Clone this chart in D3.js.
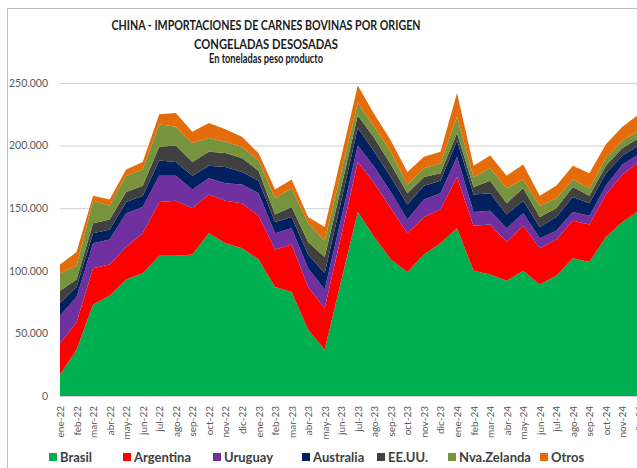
<!DOCTYPE html>
<html>
<head>
<meta charset="utf-8">
<script src="https://cdn.jsdelivr.net/npm/d3@7"></script>
<style>
  body { margin: 0; background: #fff; overflow: hidden; }
  svg { display: block; font-family: Lato, "Open Sans", sans-serif; }
</style>
</head>
<body>
<div id="chart"></div>
<script>
// months ene-22 .. dic-24 (last one falls just past the right edge)
let months = ["ene-22","feb-22","mar-22","abr-22","may-22","jun-22","jul-22","ago-22","sep-22","oct-22","nov-22","dic-22",
              "ene-23","feb-23","mar-23","abr-23","may-23","jun-23","jul-23","ago-23","sep-23","oct-23","nov-23","dic-23",
              "ene-24","feb-24","mar-24","abr-24","may-24","jun-24","jul-24","ago-24","sep-24","oct-24","nov-24","dic-24"];

let series = ["Brasil","Argentina","Uruguay","Australia","EE.UU.","Nva.Zelanda","Otros"];
let colors = ["#00b050","#ff0000","#7030a0","#002060","#404040","#77933c","#e46c0a"];

// toneladas peso producto
let brasil     = [17000,37000,73000,80000,93000,98000,112000,112000,113000,130000,122000,118000,109000,87000,83000,53000,37000,92000,147000,127000,109000,99000,113000,122000,134000,100000,97000,92000,100000,89000,96000,110000,107000,127000,139000,148000];
let argentina  = [25000,22000,29000,25000,26000,32000,43000,44000,37000,31000,34000,36000,35000,30000,38000,34000,33000,36000,40000,43000,41000,31000,30000,27000,41000,36000,40000,31000,36000,29000,29000,30000,30000,34000,38000,39000];
let uruguay    = [22000,20000,20000,20000,27000,21000,21000,20000,15000,13000,14000,15000,18000,13000,13000,15000,15000,14000,13000,13000,13000,11000,14000,13000,16000,11000,11000,11000,10000,8000,7000,7000,7000,7000,8000,6000];
let australia  = [10000,8000,8000,8000,9000,9000,12000,11000,11000,10000,13000,10000,10000,9000,9000,11000,13000,14000,14000,12000,12000,12000,11000,10000,13000,14000,14000,11000,10000,9000,11000,12000,10000,10000,7000,7000];
let eeuu       = [10000,6000,8000,8000,8000,8000,11000,13000,11000,11000,11000,11000,8000,6000,8000,10000,13000,11000,10000,11000,10000,9000,7000,6000,6000,6000,10000,9000,10000,8000,7000,8000,6000,6000,6000,6000];
let nvazelanda = [14000,11000,18000,11000,13000,13000,18000,15000,15000,11000,9000,9000,8000,13000,15000,15000,13000,12000,10000,9000,10000,7000,7000,8000,13000,8000,10000,12000,7000,9000,8000,6000,6000,6000,6000,6000];
let otros      = [7000,11000,4000,5000,5000,6000,8000,11000,9000,12000,10000,8000,6000,7000,7000,5000,11000,12000,14000,10000,9000,10000,9000,9000,19000,9000,10000,10000,12000,8000,10000,11000,12000,11000,11000,13000];

let yTicks = [0,50000,100000,150000,200000,250000];
let titleLines = ["CHINA - IMPORTACIONES DE CARNES BOVINAS POR ORIGEN","CONGELADAS DESOSADAS","En toneladas peso producto"];

// build table for d3.stack
let seriesValues = [brasil,argentina,uruguay,australia,eeuu,nvazelanda,otros];
let table = months.map(function(m,i){
  let row = {month:m};
  series.forEach(function(s,k){ row[s] = seriesValues[k][i]; });
  return row;
});

let width = 637, height = 468;
let svg = d3.select("#chart").append("svg")
  .attr("width",width).attr("height",height);

// outer frame (cut by the window on the right and bottom)
svg.append("rect")
  .attr("x",7.5).attr("y",8.5).attr("width",700).attr("height",500)
  .style("fill","none").style("stroke","#bfbfbf");

let x = d3.scalePoint().domain(months).range([60,639]);
let y = d3.scaleLinear().domain([0,250000]).range([396,83]);

// gridlines
svg.append("g").selectAll("line").data(yTicks).enter().append("line")
  .attr("x1",60).attr("x2",width)
  .attr("y1",function(d){return y(d)+0.5;}).attr("y2",function(d){return y(d)+0.5;})
  .style("stroke","#d0d0d0").style("stroke-width",1);

// stacked areas
let stack = d3.stack().keys(series);
let layers = stack(table);
let area = d3.area()
  .x(function(d){return x(d.data.month);})
  .y0(function(d){return y(d[0]);})
  .y1(function(d){return y(d[1]);});

svg.append("g").attr("id","areas").selectAll("path").data(layers).enter().append("path")
  .attr("d",area)
  .style("fill",function(d,i){return colors[i];});

// y axis labels
let yAxis = d3.axisLeft(y).tickValues(yTicks).tickSize(0).tickPadding(12)
  .tickFormat(function(d){return d3.format(",")(d).replace(/,/g,".");});
let yg = svg.append("g").attr("transform","translate(60,0)").call(yAxis);
yg.select(".domain").remove();
yg.selectAll("text").style("font-size","10.5px").style("fill","#595959")
  .style("font-family","Lato, sans-serif");

// x axis labels, rotated
let xAxis = d3.axisBottom(x).tickSize(0).tickPadding(0);
let xg = svg.append("g").attr("transform","translate(0,396)").call(xAxis);
xg.select(".domain").style("stroke","#d0d0d0");
xg.selectAll("text")
  .attr("transform","rotate(-90)")
  .attr("text-anchor","end")
  .attr("x",-10).attr("y",0).attr("dy","0.35em")
  .style("font-size","10px").style("fill","#595959")
  .style("font-family","Lato, sans-serif");

// title (Calibri-like narrow width)
let titleWidths = [309,144,114];
svg.append("g").selectAll("text").data(titleLines).enter().append("text")
  .attr("x",266)
  .attr("y",function(d,i){return [30,49,63][i];})
  .attr("text-anchor","middle")
  .attr("textLength",function(d,i){return titleWidths[i];})
  .attr("lengthAdjust","spacingAndGlyphs")
  .style("font-size","12.5px").style("font-weight","bold").style("fill","#1a1a1a")
  .text(function(d){return d;});

// legend
let legendX = [49,123,213,302,377,448,540];
let lg = svg.append("g").selectAll("g").data(series).enter().append("g")
  .attr("transform",function(d,i){return "translate("+legendX[i]+",453)";});
lg.append("rect").attr("width",8).attr("height",8)
  .style("fill",function(d,i){return colors[i];});
lg.append("text").attr("x",11).attr("y",8.5)
  .style("font-size","13px").style("font-weight","bold").style("fill","#404040")
  .text(function(d){return d;});
</script>
</body>
</html>
